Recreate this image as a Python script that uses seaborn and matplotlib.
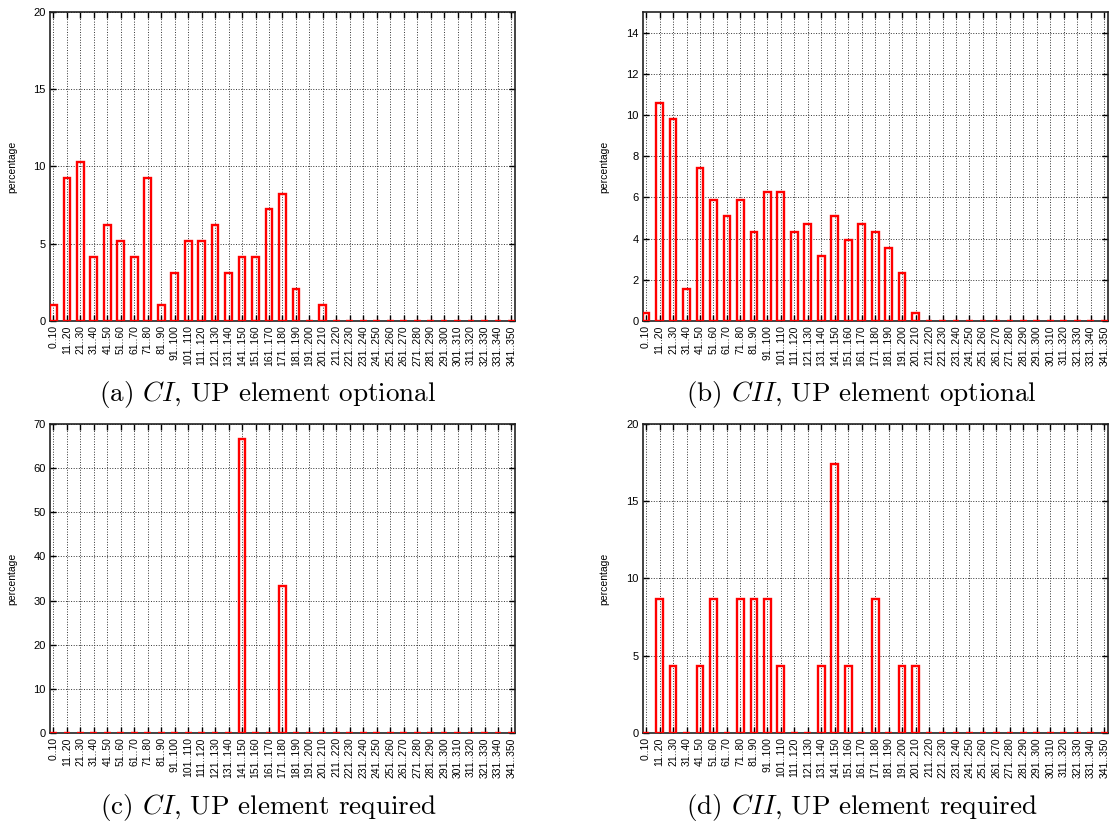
import matplotlib
matplotlib.use("Agg")
import numpy as np
import pandas as pd
import seaborn as sns
from matplotlib import pyplot as plt

bins = [f"{lo}..{lo + 9 if lo else 10}" for lo in [0] + list(range(11, 342, 10))]

# percentages per length bin
ci_optional = [1.03, 9.28, 10.31, 4.12, 6.19, 5.15, 4.12, 9.28, 1.03, 3.09,
               5.15, 5.15, 6.19, 3.09, 4.12, 4.12, 7.22, 8.25, 2.06, 0.0,
               1.03] + [0.0] * 14
cii_optional = [0.39, 10.59, 9.80, 1.57, 7.45, 5.88, 5.10, 5.88, 4.31, 6.27,
                6.27, 4.31, 4.71, 3.14, 5.10, 3.92, 4.71, 4.31, 3.53, 2.35,
                0.39] + [0.0] * 14
ci_required = [0.0] * 14 + [66.67, 0.0, 0.0, 33.33] + [0.0] * 17
cii_required = [0.0, 8.70, 4.35, 0.0, 4.35, 8.70, 0.0, 8.70, 8.70, 8.70,
                4.35, 0.0, 0.0, 4.35, 17.39, 4.35, 0.0, 8.70, 0.0, 4.35,
                4.35] + [0.0] * 14

panels = [
    (ci_optional, 20, 5, "(a) $CI$, UP element optional"),
    (cii_optional, 15, 2, "(b) $CII$, UP element optional"),
    (ci_required, 70, 10, "(c) $CI$, UP element required"),
    (cii_required, 20, 5, "(d) $CII$, UP element required"),
]

sns.set_style("ticks")
plt.rcParams["font.family"] = ["Liberation Sans", "DejaVu Sans"]
plt.rcParams["mathtext.fontset"] = "cm"
plt.rcParams["text.color"] = "black"
plt.rcParams["axes.labelcolor"] = "black"
plt.rcParams["xtick.color"] = "black"
plt.rcParams["ytick.color"] = "black"

fig = plt.figure(figsize=(11.12, 8.26), dpi=100)

rects = [
    [0.045, 0.6114, 0.418, 0.3741],
    [0.578, 0.6114, 0.418, 0.3741],
    [0.045, 0.1126, 0.418, 0.3741],
    [0.578, 0.1126, 0.418, 0.3741],
]
caption_pos = [(0.241, 0.523), (0.775, 0.523), (0.241, 0.023), (0.775, 0.023)]

for (values, ymax, ystep, caption), rect, (cx, cy) in zip(panels, rects, caption_pos):
    ax = fig.add_axes(rect)
    df = pd.DataFrame({"bin": bins, "percentage": values})
    sns.barplot(data=df, x="bin", y="percentage", ax=ax, fill=False,
                color="red", width=0.5, linewidth=1.7, errorbar=None)
    for p in ax.patches:
        p.set_edgecolor("red")
        p.set_zorder(3)
    ax.set_xlim(-0.25, len(bins) - 0.75)
    ax.set_ylim(0, ymax)
    ax.set_yticks(np.arange(0, ymax + 0.01, ystep))
    ax.set_xticks(range(len(bins)))
    ax.set_xticklabels(bins, rotation=90, fontsize=7.5)
    ax.tick_params(axis="y", labelsize=8)
    ax.tick_params(direction="in", top=True, right=True, length=4, width=1, pad=3)
    ax.grid(True, linestyle=":", color="#333333", linewidth=0.7)
    ax.set_axisbelow(True)
    ax.set_xlabel("")
    ax.set_ylabel("percentage", fontsize=7.5, labelpad=12)
    for s in ax.spines.values():
        s.set_visible(True)
        s.set_linewidth(1.2)
        s.set_color("#222222")
    fig.text(cx, cy, caption, ha="center", va="center", fontsize=19.5,
             family="cmr10")

fig.savefig("out.png", dpi=100)
